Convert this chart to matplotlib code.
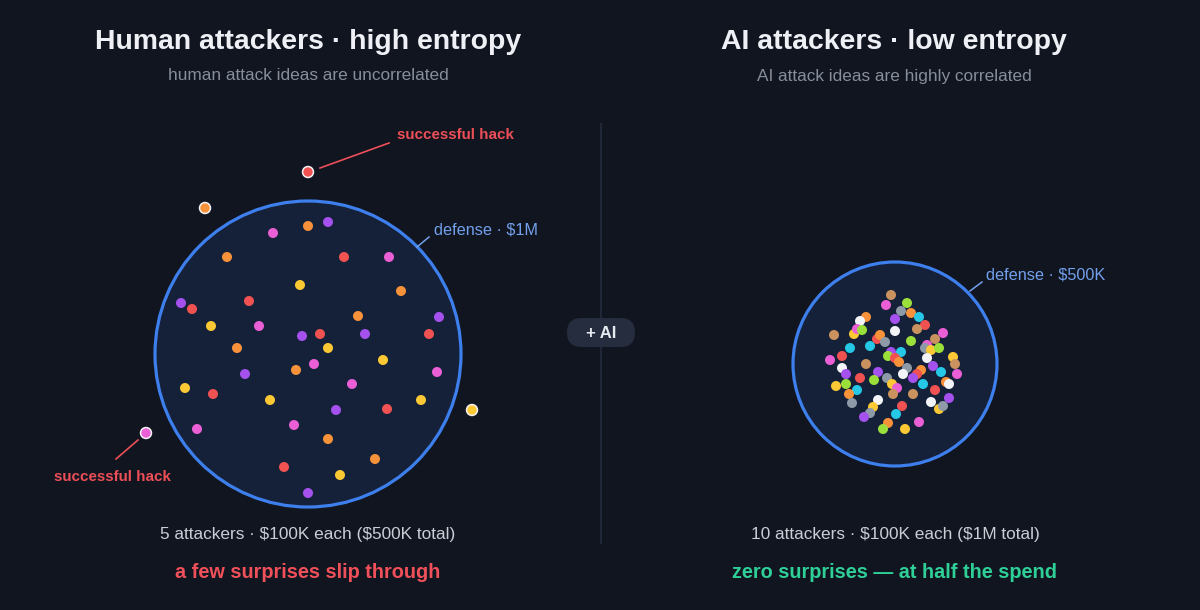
import matplotlib
matplotlib.use("Agg")
import matplotlib.pyplot as plt
from matplotlib.patches import Circle, FancyBboxPatch

plt.rcParams['font.family'] = ['Liberation Sans', 'DejaVu Sans']

BG = '#11151f'
CIRCLE_FILL = '#152039'
CIRCLE_EDGE = '#3d7fec'

palette = {
    'r': '#f05252', 'o': '#f7923a', 'y': '#fcc934', 'p': '#ea5fd6',
    'v': '#a551ee', 'g': '#9be03a', 'c': '#25c8e6', 'w': '#f2f4f7',
    'k': '#8f9aa8', 't': '#c9925e',
}

# left panel: human attack ideas (pixel space, y down)
human_x = [273, 308, 328, 227, 344, 389, 300, 401, 181, 192, 249, 211, 259, 358,
           439, 302, 320, 365, 429, 237, 328, 383, 314, 296, 245, 437, 185, 213,
           352, 270, 421, 336, 387, 197, 294, 328, 375, 284, 340, 308]
human_y = [233, 226, 222, 257, 257, 257, 285, 291, 303, 309, 301, 326, 326, 316,
           317, 336, 334, 334, 334, 348, 348, 360, 364, 370, 374, 372, 388, 394,
           384, 400, 400, 410, 409, 429, 425, 439, 459, 467, 475, 493]
human_c = "povorpyovr" "rypovvrvro" "yypovpyrpy" "yvrppooryv"

# ideas that land outside the defense
miss_x = [205, 308, 472, 146]
miss_y = [208, 172, 410, 433]
miss_c = "oryp"

# right panel: AI attack ideas
ai_x = [891, 886, 907, 901, 911, 919, 895, 866, 860, 925, 917, 895, 943, 834,
        854, 857, 862, 877, 880, 885, 870, 911, 935, 927, 925, 931, 939, 850,
        901, 891, 842, 888, 895, 899, 927, 953, 955, 830, 866, 842, 933, 907,
        921, 917, 941, 957, 846, 878, 903, 913, 860, 887, 874, 892, 897, 946,
        949, 836, 846, 923, 857, 849, 935, 893, 913, 949, 852, 878, 931, 939,
        943, 902, 873, 870, 864, 896, 888, 883, 905, 919]
ai_y = [295, 305, 303, 311, 313, 317, 319, 317, 321, 325, 329, 331, 333, 335,
        334, 329, 330, 339, 335, 342, 346, 341, 339, 345, 348, 350, 348, 348,
        352, 352, 356, 356, 358, 362, 358, 357, 364, 360, 364, 368, 366, 368,
        370, 374, 372, 374, 374, 372, 374, 378, 378, 378, 380, 384, 388, 382,
        384, 386, 384, 384, 390, 394, 390, 394, 394, 398, 403, 400, 402, 409,
        406, 406, 407, 413, 417, 414, 423, 429, 429, 422]
ai_c = ("tpgkocvowrtwpt" "ypgrokcgtpkygc" "cvrgrowytptwvk"
        "orcpvvwvrkgypo" "wygcco" "rttvkwwykrykvc" "ogyp")

left_center = (308, 354)
left_radius = 153
right_center = (895, 364)
right_radius = 102

fig = plt.figure(figsize=(12, 6.1), dpi=100, facecolor=BG)
ax = fig.add_axes([0, 0, 1, 1])
ax.set_facecolor(BG)
ax.set_xlim(0, 1200)
ax.set_ylim(610, 0)
ax.set_aspect('equal')
ax.axis('off')

# defense circles
for c, r in [(left_center, left_radius), (right_center, right_radius)]:
    ax.add_patch(Circle(c, r, facecolor=CIRCLE_FILL, edgecolor=CIRCLE_EDGE,
                        lw=2.3, zorder=1))

ax.scatter(human_x, human_y, s=52, c=[palette[k] for k in human_c],
           linewidths=0, zorder=3)
ax.scatter(miss_x, miss_y, s=62, c=[palette[k] for k in miss_c],
           edgecolors='#f2f2f5', linewidths=1.1, zorder=3)
ax.scatter(ai_x, ai_y, s=52, c=[palette[k] for k in ai_c],
           linewidths=0, zorder=3)

# separator + pill
ax.plot([601, 601], [124, 543], color='#222b3b', lw=1.3, zorder=0)
ax.add_patch(FancyBboxPatch((567, 318), 68, 29,
                            boxstyle='round,pad=0,rounding_size=14.5',
                            facecolor='#252d3e', edgecolor='none', zorder=2))
ax.text(601, 333, '+ AI', color='#e6e9ef', fontsize=12, fontweight='bold',
        ha='center', va='center', zorder=3)

# titles
for cx, title, sub in [
        (308, 'Human attackers · high entropy', 'human attack ideas are uncorrelated'),
        (894, 'AI attackers · low entropy', 'AI attack ideas are highly correlated')]:
    ax.text(cx, 42, title, color='#eef0f5', fontsize=20.4, fontweight='bold',
            ha='center', va='center')
    ax.text(cx, 76, sub, color='#868e9c', fontsize=12.4, ha='center', va='center')

# bottom captions
ax.text(308, 535, r'5 attackers · \$100K each (\$500K total)', color='#c9cdd5',
        fontsize=12.4, ha='center', va='center')
ax.text(308, 573, 'a few surprises slip through', color='#f0505a',
        fontsize=14.3, fontweight='bold', ha='center', va='center')
ax.text(895, 535, r'10 attackers · \$100K each (\$1M total)', color='#c9cdd5',
        fontsize=12.4, ha='center', va='center')
ax.text(895, 573, 'zero surprises — at half the spend', color='#2fcf98',
        fontsize=14.3, fontweight='bold', ha='center', va='center')

# annotations
HACK = '#ec4f58'
ax.plot([320, 389], [168, 143], color=HACK, lw=1.2, zorder=2)
ax.text(397, 135, 'successful hack', color=HACK, fontsize=10.9,
        fontweight='bold', ha='left', va='center')
ax.plot([138, 116], [440, 459], color=HACK, lw=1.2, zorder=2)
ax.text(112, 477, 'successful hack', color=HACK, fontsize=10.9,
        fontweight='bold', ha='center', va='center')

DEF = '#72a0ec'
ax.plot([417, 429], [247, 237], color=DEF, lw=1.1, zorder=2)
ax.text(434, 230, r'defense · \$1M', color=DEF, fontsize=11.7,
        ha='left', va='center')
ax.plot([970, 982], [291, 282], color=DEF, lw=1.1, zorder=2)
ax.text(986, 275, r'defense · \$500K', color=DEF, fontsize=11.7,
        ha='left', va='center')

fig.savefig('out.png', dpi=100, facecolor=BG)
